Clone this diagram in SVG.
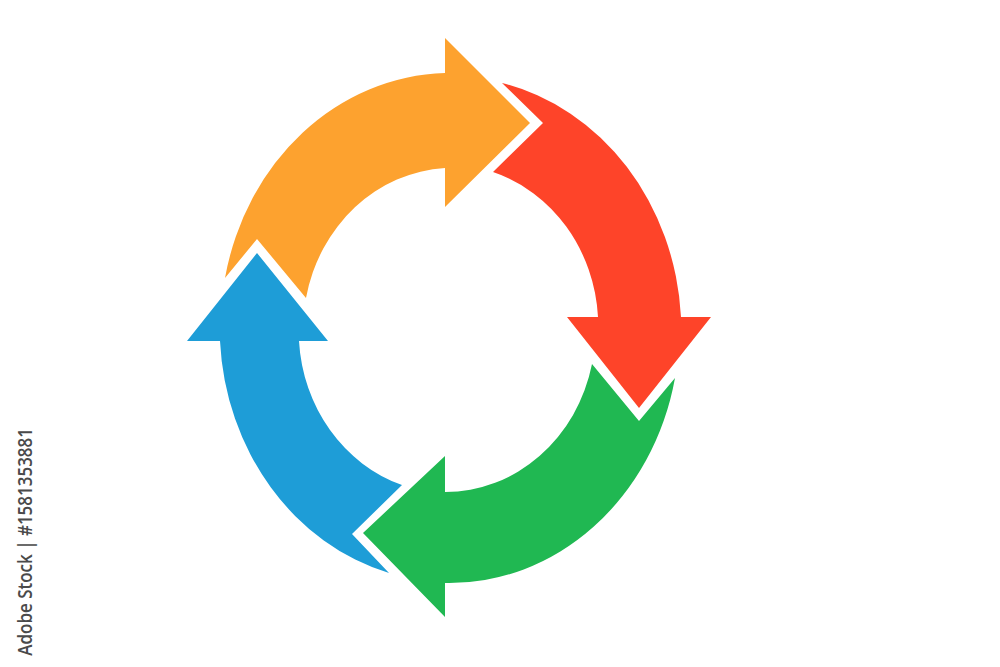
<svg xmlns="http://www.w3.org/2000/svg" width="1000" height="667" viewBox="0 0 1000 667">
<style>
.lbl{font-family:"Open Sans","Liberation Sans",sans-serif;font-weight:600;font-size:17px;fill:#4a4a4a}
</style>
<rect width="1000" height="667" fill="#ffffff"/>
<g id="connectors">
<g id="orange"><path fill="#FDA22F" d="M225,278 A230,255 0 0 1 445,73 L445,38 L530,123 L445,207 L445,168 A150,162 0 0 0 306,298 L257,239 Z"/></g>
<g id="red"><path fill="#FE4429" d="M502,83 A230,255 0 0 1 681,317 L711,317 L639,408 L567,317 L598,317 A150,162 0 0 0 493,172 L543,123 Z"/></g>
<g id="green"><path fill="#20B852" d="M675,378 A230,255 0 0 1 445,583 L445,617 L363,533 L445,456 L445,492 A150,162 0 0 0 592,364 L639,421 Z"/></g>
<g id="blue"><path fill="#1E9DD7" d="M389,573 A230,255 0 0 1 220,341 L187,341 L257,253 L328,341 L299,341 A150,162 0 0 0 402,485 L352,534 Z"/></g>
</g>
<g id="stock-id">
<text class="lbl" text-anchor="end" transform="translate(32,428) rotate(-90) scale(1,1.15)">Adobe Stock | #1581353881</text>
</g>
</svg>
